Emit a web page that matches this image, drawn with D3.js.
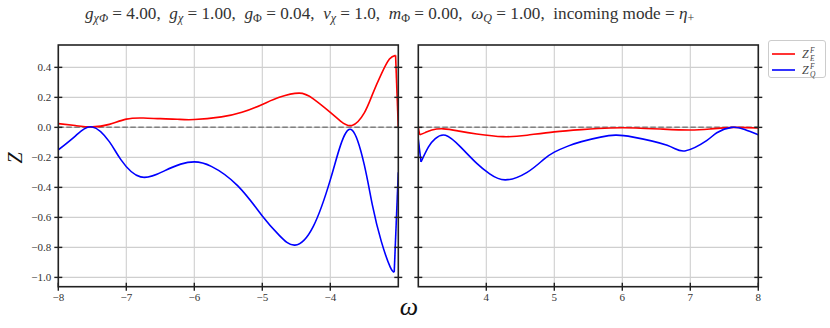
<!DOCTYPE html>
<html>
<head>
<meta charset="utf-8">
<script src="https://cdn.jsdelivr.net/npm/d3@7"></script>
<style>
  body { margin: 0; background: #fff; }
  svg { display: block; }
  svg text { font-family: "Liberation Serif", "DejaVu Serif", serif; }
</style>
</head>
<body>
<svg id="chart" width="830" height="328"></svg>
<script>
// Data
const leftX    = [-8.0, -7.75, -7.5, -7.25, -7.0, -6.75, -6.5, -6.25, -6.0, -5.6, -5.3, -5.0, -4.75, -4.46, -4.25, -4.0, -3.85, -3.68, -3.5, -3.38, -3.25, -3.13, -3.04, -3.0];
const leftRed  = [0.025, 0.012, 0.003, 0.02, 0.055, 0.062, 0.058, 0.054, 0.052, 0.07, 0.1, 0.153, 0.2, 0.228, 0.19, 0.1, 0.042, 0.013, 0.097, 0.22, 0.355, 0.455, 0.48, 0.0];
const leftBlueX = [-8.0, -7.75, -7.5, -7.25, -7.08, -6.79, -6.44, -6.2, -6.0, -5.75, -5.36, -5.0, -4.75, -4.52, -4.25, -4.0, -3.85, -3.68, -3.5, -3.38, -3.25, -3.12, -3.06, -3.0];
const leftBlue = [-0.15, -0.058, 0.003, -0.095, -0.215, -0.33, -0.29, -0.245, -0.23, -0.26, -0.39, -0.59, -0.72, -0.785, -0.66, -0.35, -0.12, -0.018, -0.25, -0.52, -0.76, -0.93, -0.965, -0.3];

const rightRedX = [3.0, 3.02, 3.1, 3.2, 3.37, 3.6, 3.86, 4.25, 4.6, 5.0, 5.4, 5.82, 6.2, 6.6, 7.0, 7.3, 7.64, 8.0];
const rightRed  = [0.0, -0.05, -0.035, -0.018, -0.01, -0.025, -0.044, -0.062, -0.052, -0.03, -0.015, -0.004, -0.004, -0.012, -0.018, -0.01, 0.0, -0.004];
const rightBlueX = [3.0, 3.04, 3.15, 3.25, 3.4, 3.62, 3.86, 4.05, 4.28, 4.6, 4.84, 5.0, 5.2, 5.4, 5.68, 5.9, 6.16, 6.66, 6.92, 7.24, 7.39, 7.61, 7.8, 8.0];
const rightBlue  = [-0.08, -0.23, -0.13, -0.075, -0.053, -0.13, -0.24, -0.31, -0.35, -0.3, -0.215, -0.165, -0.125, -0.095, -0.065, -0.052, -0.065, -0.12, -0.157, -0.088, -0.036, 0.0, -0.015, -0.05];

const yTicks = [0.4, 0.2, 0.0, -0.2, -0.4, -0.6, -0.8, -1.0];
const leftTicks = [-8, -7, -6, -5, -4];
const rightTicks = [4, 5, 6, 7, 8];

const svg = d3.select('#chart');
const plotTop = 45, plotBottom = 286.7;
const fmtY = d => d3.format('.1f')(d).replace('-', '\u2212');
const fmtX = d => String(d).replace('-', '\u2212');

const y = d3.scaleLinear().domain([-1.062, 0.549]).range([plotBottom, plotTop]);

// edge: which end has the abrupt jump (drawn straight, the rest smooth)
const panels = [
  { x: d3.scaleLinear().domain([-8, -3]).range([58.3, 398.3]), ticks: leftTicks, labels: true, edge: 'end',
    red: leftX.map((d, i) => [d, leftRed[i]]), blue: leftBlueX.map((d, i) => [d, leftBlue[i]]) },
  { x: d3.scaleLinear().domain([3, 8]).range([418.3, 758.3]), ticks: rightTicks, labels: false, edge: 'start',
    red: rightRedX.map((d, i) => [d, rightRed[i]]), blue: rightBlueX.map((d, i) => [d, rightBlue[i]]) }
];

panels.forEach((p, k) => {
  const [x0, x1] = p.x.range();
  const g = svg.append('g');

  svg.append('clipPath').attr('id', 'clip' + k)
    .append('rect').attr('x', x0).attr('y', plotTop).attr('width', x1 - x0).attr('height', plotBottom - plotTop);

  // grid
  g.selectAll('.vg').data(p.ticks).enter().append('line')
    .attr('x1', d => p.x(d)).attr('x2', d => p.x(d)).attr('y1', plotTop).attr('y2', plotBottom)
    .attr('stroke', '#cfcfcf').attr('stroke-width', 1.1);
  g.selectAll('.hg').data(yTicks).enter().append('line')
    .attr('x1', x0).attr('x2', x1).attr('y1', d => y(d)).attr('y2', d => y(d))
    .attr('stroke', '#cfcfcf').attr('stroke-width', 1.1);

  // zero line
  g.append('line').attr('x1', x0).attr('x2', x1).attr('y1', y(0)).attr('y2', y(0))
    .attr('stroke', '#808080').attr('stroke-width', 1.5).attr('stroke-dasharray', '5.5,2.5');

  const smooth = d3.line().x(d => p.x(d[0])).y(d => y(d[1])).curve(d3.curveNatural);
  const straight = d3.line().x(d => p.x(d[0])).y(d => y(d[1]));
  const cg = g.append('g').attr('clip-path', `url(#clip${k})`);
  [[p.red, '#ff0000'], [p.blue, '#0000ff']].forEach(([pts, c]) => {
    const n = pts.length;
    const core = p.edge === 'end' ? pts.slice(0, n - 1) : pts.slice(1);
    const jump = p.edge === 'end' ? pts.slice(n - 2) : pts.slice(0, 2);
    cg.append('path').attr('d', smooth(core)).attr('fill', 'none').attr('stroke', c).attr('stroke-width', 1.6);
    cg.append('path').attr('d', straight(jump)).attr('fill', 'none').attr('stroke', c).attr('stroke-width', 1.6);
  });

  // frame
  g.append('rect').attr('x', x0).attr('y', plotTop).attr('width', x1 - x0).attr('height', plotBottom - plotTop)
    .attr('fill', 'none').attr('stroke', '#222').attr('stroke-width', 1.6);

  // y ticks both sides, crossing the spine
  [x0, x1].forEach(sx => {
    g.selectAll(null).data(yTicks).enter().append('line')
      .attr('x1', sx - 4).attr('x2', sx + 4).attr('y1', d => y(d)).attr('y2', d => y(d))
      .attr('stroke', '#222').attr('stroke-width', 1.4);
  });
  // x ticks bottom
  g.selectAll(null).data(p.ticks).enter().append('line')
    .attr('x1', d => p.x(d)).attr('x2', d => p.x(d)).attr('y1', plotBottom - 4).attr('y2', plotBottom + 4)
    .attr('stroke', '#222').attr('stroke-width', 1.4);
  g.selectAll(null).data(p.ticks).enter().append('text')
    .attr('x', d => p.x(d)).attr('y', plotBottom + 14).attr('text-anchor', 'middle')
    .attr('font-size', 11).attr('fill', '#333').text(fmtX);

  if (p.labels) {
    g.selectAll(null).data(yTicks).enter().append('text')
      .attr('x', x0 - 7).attr('y', d => y(d) + 3.6).attr('text-anchor', 'end')
      .attr('font-size', 11).attr('fill', '#333').text(fmtY);
  }
});

// axis labels
svg.append('text').attr('x', 409).attr('y', 315).attr('text-anchor', 'middle')
  .attr('font-size', 26).attr('font-style', 'italic').attr('fill', '#111').text('ω');
svg.append('text').attr('transform', 'translate(22,158) rotate(-90)').attr('text-anchor', 'middle')
  .attr('font-size', 20).attr('font-style', 'italic').attr('fill', '#111').text('Z');

// title with sub-scripts
const titleParts = [
  ['g', 'i'], ['χΦ', 'sub'], [' = 4.00,  ', 'r'],
  ['g', 'i'], ['χ', 'sub'], [' = 1.00,  ', 'r'],
  ['g', 'i'], ['Φ', 'sub'], [' = 0.04,  ', 'r'],
  ['v', 'i'], ['χ', 'sub'], [' = 1.0,  ', 'r'],
  ['m', 'i'], ['Φ', 'sub'], [' = 0.00,  ', 'r'],
  ['ω', 'i'], ['Q', 'sub'], [' = 1.00,  incoming mode = ', 'r'],
  ['η', 'i'], ['+', 'sub']
];
const title = svg.append('text').attr('x', 85).attr('y', 19).attr('font-size', 14)
  .attr('fill', '#333').attr('xml:space', 'preserve');
let shifted = false;
titleParts.forEach(([t, s]) => {
  const ts = title.append('tspan').text(t);
  if (s === 'i') ts.attr('font-style', 'italic');
  if (s === 'sub') {
    ts.attr('font-size', '70%').attr('dy', 3).attr('font-style', /[χQ]/.test(t) ? 'italic' : 'normal');
    shifted = true;
  } else if (shifted) {
    ts.attr('dy', -3);
    shifted = false;
  }
});
const tw = title.node().getComputedTextLength();
title.attr('font-size', 14 * 610 / tw);

// legend
const lg = svg.append('g');
lg.append('rect').attr('x', 768.5).attr('y', 40.5).attr('width', 57).attr('height', 37).attr('rx', 2.5)
  .attr('fill', '#fff').attr('stroke', '#ccc').attr('stroke-width', 1);
[['#ff0000', 'E', 54], ['#0000ff', 'Q', 70]].forEach(([c, sub, ly]) => {
  lg.append('line').attr('x1', 772).attr('x2', 795).attr('y1', ly).attr('y2', ly)
    .attr('stroke', c).attr('stroke-width', 1.6);
  lg.append('text').attr('x', 802).attr('y', ly + 4).attr('font-size', 12).attr('font-style', 'italic')
    .attr('fill', '#444').text('Z');
  lg.append('text').attr('x', 810).attr('y', ly + 7).attr('font-size', 7.5).attr('font-style', 'italic')
    .attr('fill', '#444').text(sub);
  lg.append('text').attr('x', 810).attr('y', ly - 1.5).attr('font-size', 7.5).attr('font-style', 'italic')
    .attr('fill', '#444').text('F');
});
</script>
</body>
</html>
